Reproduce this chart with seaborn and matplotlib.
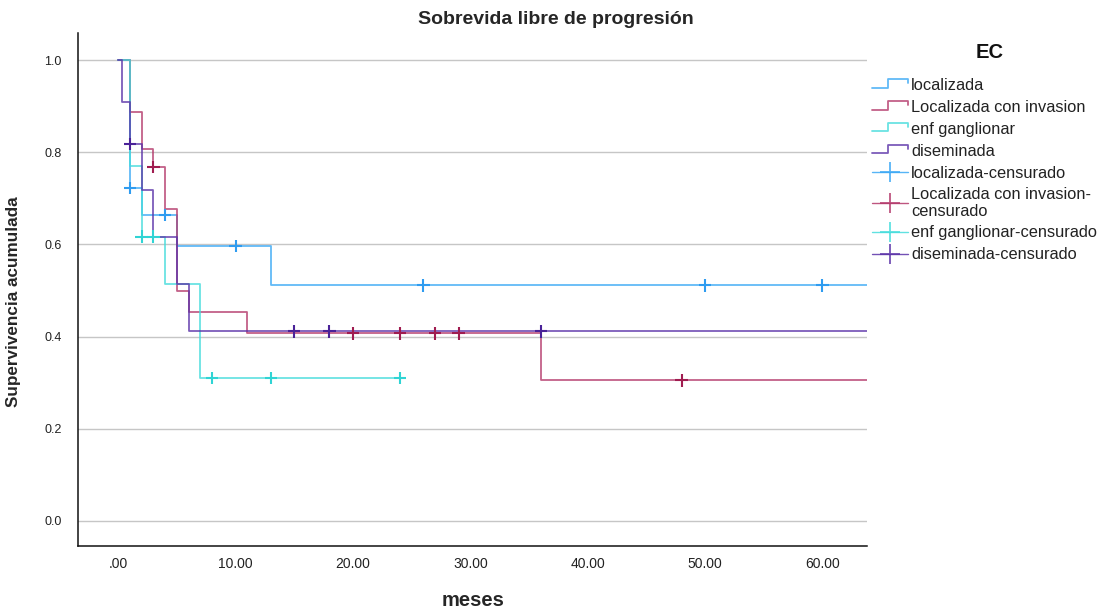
import numpy as np
import pandas as pd
import matplotlib
matplotlib.use("Agg")
import matplotlib.pyplot as plt
import seaborn as sns
from matplotlib.lines import Line2D
from matplotlib.legend_handler import HandlerBase

# groups (EC) and their colours
groups = ["localizada", "Localizada con invasion", "enf ganglionar", "diseminada"]
line_colors = ["#3aa8f5", "#b3386a", "#45dcdc", "#5b33a8"]
mark_colors = ["#2f9cf0", "#a01c50", "#30d4d4", "#4a2298"]

# Kaplan-Meier steps: time (months) and cumulative survival from that time on
loc_t = [0, 1, 2, 5, 13, 70]
loc_s = [1.0, 0.722, 0.664, 0.597, 0.511, 0.511]
inv_t = [0, 1, 2, 3, 4, 5, 6, 11, 36, 70]
inv_s = [1.0, 0.887, 0.808, 0.768, 0.678, 0.499, 0.453, 0.407, 0.305, 0.305]
gan_t = [0, 1, 2, 4, 7, 24]
gan_s = [1.0, 0.771, 0.617, 0.515, 0.310, 0.310]
dis_t = [0, 0.3, 1, 2, 3, 5, 6, 70]
dis_s = [1.0, 0.909, 0.818, 0.718, 0.617, 0.514, 0.411, 0.411]

# censored observations (months)
loc_c = [1, 4, 10, 26, 50, 60]
inv_c = [3, 20, 24, 27, 29, 48]
gan_c = [2, 3, 8, 13, 24]
dis_c = [1, 15, 18, 36]

x_ticks = [0, 10, 20, 30, 40, 50, 60]
x_tick_labels = [".00", "10.00", "20.00", "30.00", "40.00", "50.00", "60.00"]
y_ticks = [0.0, 0.2, 0.4, 0.6, 0.8, 1.0]
y_tick_labels = ["0.0", "0.2", "0.4", "0.6", "0.8", "1.0"]

steps = [(loc_t, loc_s), (inv_t, inv_s), (gan_t, gan_s), (dis_t, dis_s)]
cens = [loc_c, inv_c, gan_c, dis_c]

curve_rows = []
cens_rows = []
for g, (t, s), c in zip(groups, steps, cens):
    for ti, si in zip(t, s):
        curve_rows.append({"meses": ti, "surv": si, "EC": g})
    t_arr = np.asarray(t, dtype=float)
    for ci in c:
        k = np.searchsorted(t_arr, ci, side="right") - 1
        cens_rows.append({"meses": ci, "surv": s[k], "EC": g})
curves = pd.DataFrame(curve_rows)
censored = pd.DataFrame(cens_rows)

sns.set_style("white")
plt.rcParams["font.family"] = ["Liberation Sans", "DejaVu Sans"]

W, H = 1108, 610
fig = plt.figure(figsize=(W / 100, H / 100), dpi=100)
ax = fig.add_axes([78.3 / W, 1 - 545.7 / H, (867 - 78.3) / W, (545.7 - 33) / H])

ax.yaxis.grid(True, color="#c6c6c6", linewidth=1.0)
ax.xaxis.grid(False)
ax.set_axisbelow(True)

sns.lineplot(data=curves, x="meses", y="surv", hue="EC", hue_order=groups,
             palette=line_colors, drawstyle="steps-post", estimator=None,
             linewidth=1.3, alpha=0.8, legend=False, ax=ax)
sns.scatterplot(data=censored, x="meses", y="surv", hue="EC", hue_order=groups,
                palette=mark_colors, marker="+", s=80, linewidth=1.5,
                legend=False, ax=ax, zorder=5)

ax.set_xlim(-3.4, 63.8)
ax.set_ylim(-0.054, 1.059)
ax.set_xticks(x_ticks)
ax.set_xticklabels(x_tick_labels, fontsize=10)
ax.set_yticks(y_ticks)
ax.set_yticklabels(y_tick_labels, fontsize=9)
ax.tick_params(axis="both", length=0, colors="#222222")
ax.tick_params(axis="x", pad=8)
ax.tick_params(axis="y", pad=12)
for side in ["top", "right"]:
    ax.spines[side].set_visible(False)
for side in ["left", "bottom"]:
    ax.spines[side].set_color("#111111")
    ax.spines[side].set_linewidth(1.1)

ax.set_xlabel("meses", fontsize=14.5, fontweight="bold")
ax.xaxis.set_label_coords(0.5, (545.7 - 591) / (545.7 - 33))
ax.set_ylabel("Supervivencia acumulada", fontsize=12.3, fontweight="bold")
ax.yaxis.set_label_coords((21 - 78.3) / (867 - 78.3), (545.7 - 302) / (545.7 - 33))
fig.text(418 / W, 1 - 19 / H, "Sobrevida libre de progresión",
         ha="left", va="center", fontsize=14, fontweight="bold")


class StepHandler(HandlerBase):
    def create_artists(self, legend, orig_handle, xdescent, ydescent,
                       width, height, fontsize, trans):
        x0 = -xdescent
        y0 = -ydescent
        xs = [x0, x0 + 0.45 * width, x0 + 0.45 * width, x0 + width, x0 + width]
        ys = [y0 + 0.2 * height, y0 + 0.2 * height, y0 + 0.95 * height,
              y0 + 0.95 * height, y0 + 0.6 * height]
        ln = Line2D(xs, ys, color=orig_handle.get_color(),
                    linewidth=orig_handle.get_linewidth(), alpha=0.8)
        ln.set_transform(trans)
        return [ln]


step_handles = [Line2D([], [], color=c, linewidth=1.3) for c in line_colors]
cens_handles = [Line2D([], [], color=c, linewidth=1.0, marker="+",
                       markersize=14, markeredgewidth=1.3, alpha=0.85)
                for c in line_colors]
labels = groups + ["localizada-censurado", "Localizada con invasion-\ncensurado",
                   "enf ganglionar-censurado", "diseminada-censurado"]
handler_map = {h: StepHandler() for h in step_handles}
leg = fig.legend(step_handles + cens_handles, labels, handler_map=handler_map,
                 loc="upper left", bbox_to_anchor=(872 / W, 1 - 78 / H),
                 frameon=False, fontsize=11.8, borderaxespad=0,
                 handlelength=2.2, handletextpad=0.2, labelspacing=0.42,
                 borderpad=0, numpoints=1)
for t in leg.get_texts():
    t.set_linespacing(1.1)
    t.set_color("#222222")
fig.text(990 / W, 1 - 52 / H, "EC", ha="center", va="center",
         fontsize=14.5, fontweight="bold", color="#111111")

fig.savefig("out.png", dpi=100, facecolor="white")
